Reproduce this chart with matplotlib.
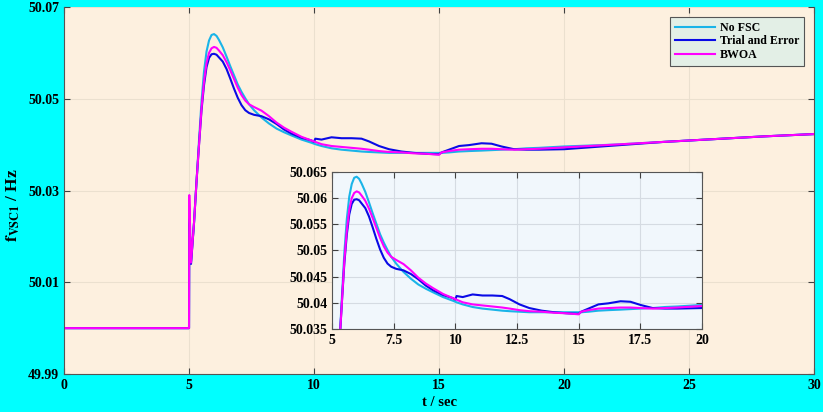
import matplotlib
matplotlib.use("Agg")
import matplotlib.pyplot as plt

plt.rcParams['font.family'] = ['Liberation Serif', 'DejaVu Serif']
plt.rcParams['font.weight'] = 'bold'
plt.rcParams['mathtext.fontset'] = 'stix'

# time axis (s)
t = [0, 5.0, 5.01, 5.08, 5.2, 5.3, 5.4, 5.5, 5.6, 5.7, 5.8, 5.9, 6.0,
     6.1, 6.2, 6.35, 6.5, 6.65, 6.8, 6.95, 7.1, 7.25, 7.4, 7.6, 7.9, 8.2, 8.5, 8.8, 9.1, 9.5, 9.9,
     10.0, 10.05, 10.3, 10.7, 11.1, 11.5, 11.9, 12.2, 12.6, 13.0, 13.5, 14.0, 14.5, 15.0,
     15.1, 15.4, 15.8, 16.2, 16.7, 17.1, 17.5, 18.0, 18.5, 19.0, 20.0,
     22.0, 24.0, 26.0, 28.0, 30.0]

no_fsc = [50.0, 50.0, 50.0252, 50.0145, 50.023, 50.032, 50.041, 50.0495, 50.0560, 50.0603, 50.0627, 50.0639, 50.0641,
          50.0637, 50.0628, 50.0612, 50.0592, 50.0571, 50.0551, 50.0531, 50.0515, 50.0501, 50.0488, 50.0475, 50.0459,
          50.0446, 50.0435, 50.0427, 50.0420, 50.0411, 50.0404,
          50.0402, 50.0401, 50.0397, 50.0392, 50.0389, 50.0387, 50.0385, 50.0384, 50.0383, 50.0382, 50.0382, 50.0382, 50.0382, 50.0382,
          50.0382, 50.0383, 50.0385, 50.0386, 50.0387, 50.0388, 50.0389, 50.0390, 50.0392, 50.0393, 50.0396,
          50.0400, 50.0406, 50.0412, 50.0418, 50.0423]

trial_error = [50.0, 50.0, 50.0250, 50.0140, 50.023, 50.032, 50.040, 50.0475, 50.0530, 50.0569, 50.0589, 50.0597, 50.0598,
               50.0596, 50.0590, 50.0581, 50.0565, 50.0544, 50.0522, 50.0502, 50.0486, 50.0475, 50.0469, 50.0465, 50.0462,
               50.0455, 50.0445, 50.0433, 50.0424, 50.0415, 50.0409,
               50.0406, 50.0413, 50.0411, 50.0416, 50.0414, 50.0414, 50.0413, 50.0407, 50.0397, 50.0390, 50.0385, 50.0382, 50.0380, 50.0379,
               50.0383, 50.0389, 50.0397, 50.0399, 50.0403, 50.0402, 50.0396, 50.0390, 50.0389, 50.0389, 50.0390,
               50.0398, 50.0406, 50.0412, 50.0418, 50.0423]

bwoa = [50.0, 50.0, 50.0290, 50.0143, 50.023, 50.032, 50.040, 50.0480, 50.0538, 50.0578, 50.0600, 50.0610, 50.0613,
        50.0611, 50.0605, 50.0595, 50.0580, 50.0562, 50.0543, 50.0524, 50.0508, 50.0496, 50.0488, 50.0482, 50.0474,
        50.0462, 50.0448, 50.0437, 50.0428, 50.0417, 50.0409,
        50.0407, 50.0406, 50.0401, 50.0397, 50.0395, 50.0393, 50.0391, 50.0389, 50.0386, 50.0384, 50.0383, 50.0381, 50.0380, 50.0378,
        50.0383, 50.0386, 50.0389, 50.0390, 50.0391, 50.0391, 50.0390, 50.0389, 50.0390, 50.0391, 50.0394,
        50.0400, 50.0406, 50.0412, 50.0418, 50.0423]

labels = ["No FSC", "Trial and Error", "BWOA"]
colors = ["#1ab4e8", "#0a0ae6", "#ff00ff"]
series = [no_fsc, trial_error, bwoa]

main_xticks = [0, 5, 10, 15, 20, 25, 30]
main_yticks = [49.99, 50.01, 50.03, 50.05, 50.07]
inset_xticks = [5, 7.5, 10, 12.5, 15, 17.5, 20]
inset_yticks = [50.035, 50.04, 50.045, 50.05, 50.055, 50.06, 50.065]

fig = plt.figure(figsize=(8.23, 4.12), dpi=100, facecolor="#00ffff")
ax = fig.add_axes([0.0778, 0.0922, 0.9113, 0.8908], facecolor="#fdf0df")

for y, c, lab in zip(series, colors, labels):
    ax.plot(t, y, color=c, lw=1.5, label=lab)

ax.set_xlim(0, 30)
ax.set_ylim(49.99, 50.07)
ax.set_xticks(main_xticks)
ax.set_xticklabels([str(v) for v in main_xticks])
ax.set_yticks(main_yticks)
ax.set_yticklabels(["%.2f" % v for v in main_yticks])
ax.grid(True, color="#ebe0cf", lw=0.8)
ax.tick_params(direction="in", length=4, width=0.8, colors="#404040",
               labelcolor="black", labelsize=10, top=True, right=True)
for s in ax.spines.values():
    s.set_color("#555555")
ax.spines["top"].set_visible(False)
ax.set_xlabel("t / sec", fontsize=10.5, fontweight="bold", labelpad=3)
ax.set_ylabel(r"$\mathbf{f_{VSC1}}$ / Hz", fontsize=12.5, fontweight="bold")
ax.yaxis.set_label_coords(-0.056, 0.46)

leg = ax.legend(loc="upper right", bbox_to_anchor=(0.987, 0.973), borderaxespad=0,
                fontsize=8.6, frameon=True, fancybox=False, handlelength=3.4,
                borderpad=0.4, labelspacing=0.15, handletextpad=0.4)
leg.get_frame().set_facecolor("#e3efe6")
leg.get_frame().set_edgecolor("#555555")
leg.get_frame().set_alpha(1)
leg.get_frame().set_linewidth(0.8)

# inset zoom
axi = fig.add_axes([0.4034, 0.2015, 0.4496, 0.381], facecolor="#f1f7fc")
for y, c in zip(series, colors):
    axi.plot(t, y, color=c, lw=1.5)
axi.set_xlim(5, 20)
axi.set_ylim(50.035, 50.065)
axi.set_xticks(inset_xticks)
axi.set_xticklabels(["%g" % v for v in inset_xticks])
axi.set_yticks(inset_yticks)
axi.set_yticklabels(["%g" % v for v in inset_yticks])
axi.grid(True, color="#d5dbe2", lw=0.8)
axi.tick_params(direction="in", length=4, width=0.8, colors="#404040",
                labelcolor="black", labelsize=10, top=True, right=True)
for s in axi.spines.values():
    s.set_color("#555555")

fig.savefig("out.png", dpi=100, facecolor=fig.get_facecolor())
